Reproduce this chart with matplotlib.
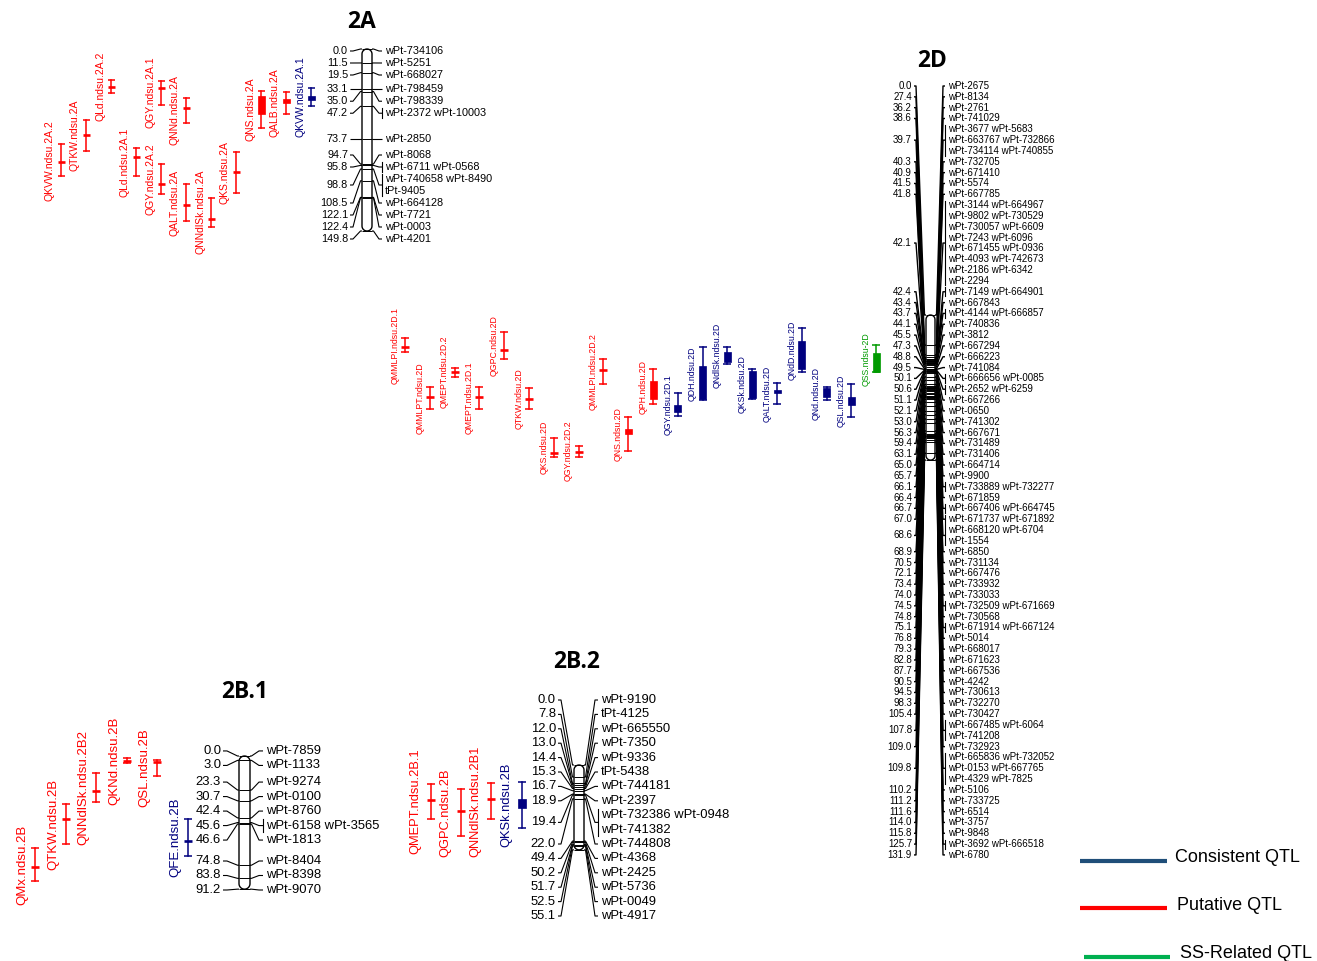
import numpy as np
import matplotlib
matplotlib.use("Agg")
import matplotlib.pyplot as plt
from matplotlib.patches import Polygon, Rectangle

plt.rcParams["font.family"] = ["Liberation Sans", "DejaVu Sans"]

W, H, DPI = 1317, 961, 100

# ---------------------------------------------------------------- chromosome 2A
A_POS = [0.0, 11.5, 19.5, 33.1, 35.0, 47.2, 73.7, 94.7, 95.8, 98.8, 108.5,
         122.1, 122.4, 149.8]
A_MARKERS = [["wPt-734106"], ["wPt-5251"], ["wPt-668027"], ["wPt-798459"],
             ["wPt-798339"], ["wPt-2372 wPt-10003"], ["wPt-2850"], ["wPt-8068"],
             ["wPt-6711 wPt-0568"], ["wPt-740658 wPt-8490", "tPt-9405"],
             ["wPt-664128"], ["wPt-7721"], ["wPt-0003"], ["wPt-4201"]]
A_QTL = ["QKVW.ndsu.2A.2", "QTKW.ndsu.2A", "QLd.ndsu.2A.2", "QLd.ndsu.2A.1",
         "QGY.ndsu.2A.1", "QGY.ndsu.2A.2", "QNNd.ndsu.2A", "QALT.ndsu.2A",
         "QNNdlSk.ndsu.2A", "QKS.ndsu.2A", "QNS.ndsu.2A", "QALB.ndsu.2A",
         "QKVW.ndsu.2A.1"]
A_LO = [78.6, 58.8, 25.7, 81.1, 26.2, 94.8, 40.7, 111.0, 122.5, 84.6, 34.4, 35.2, 31.9]
A_HI = [104.9, 84.0, 36.0, 104.7, 45.7, 119.7, 60.5, 141.7, 146.3, 118.9, 65.4, 53.1, 46.7]
A_BLO = [92.6, 70.4, 31.1, 88.7, 32.0, 111.5, 48.7, 128.8, 140.1, 101.4, 38.5, 41.3, 38.8]
A_BHI = [92.6, 70.4, 31.1, 88.7, 32.0, 111.5, 48.7, 128.8, 140.1, 101.4, 53.1, 44.3, 41.6]
A_TYPE = ["P"] * 12 + ["C"]
A_COL = [0, 1, 2, 3, 4, 4, 5, 5, 6, 7, 8, 9, 10]

# ---------------------------------------------------------------- chromosome 2D
D_POS = [0.0, 27.4, 36.2, 38.6, 39.7, 40.3, 40.9, 41.5, 41.8, 42.1,
         42.4, 43.4, 43.7, 44.1, 45.5, 47.3, 48.8, 49.5, 50.1, 50.6,
         51.1, 52.1, 53.0, 56.3, 59.4, 63.1, 65.0, 65.7, 66.1, 66.4,
         66.7, 67.0, 68.6, 68.9, 70.5, 72.1, 73.4, 74.0, 74.5, 74.8,
         75.1, 76.8, 79.3, 82.8, 87.7, 90.5, 94.5, 98.3, 105.4, 107.8,
         109.0, 109.8, 110.2, 111.2, 111.6, 114.0, 115.8, 125.7, 131.9]
D_MARKERS = [
    ["wPt-2675"], ["wPt-8134"], ["wPt-2761"], ["wPt-741029"],
    ["wPt-3677 wPt-5683", "wPt-663767 wPt-732866", "wPt-734114 wPt-740855"],
    ["wPt-732705"], ["wPt-671410"], ["wPt-5574"], ["wPt-667785"],
    ["wPt-3144 wPt-664967", "wPt-9802 wPt-730529", "wPt-730057 wPt-6609",
     "wPt-7243 wPt-6096", "wPt-671455 wPt-0936", "wPt-4093 wPt-742673",
     "wPt-2186 wPt-6342", "wPt-2294"],
    ["wPt-7149 wPt-664901"], ["wPt-667843"], ["wPt-4144 wPt-666857"],
    ["wPt-740836"], ["wPt-3812"], ["wPt-667294"], ["wPt-666223"],
    ["wPt-741084"], ["wPt-666656 wPt-0085"], ["wPt-2652 wPt-6259"],
    ["wPt-667266"], ["wPt-0650"], ["wPt-741302"], ["wPt-667671"],
    ["wPt-731489"], ["wPt-731406"], ["wPt-664714"], ["wPt-9900"],
    ["wPt-733889 wPt-732277"], ["wPt-671859"], ["wPt-667406 wPt-664745"],
    ["wPt-671737 wPt-671892"], ["wPt-668120 wPt-6704", "wPt-1554"],
    ["wPt-6850"], ["wPt-731134"], ["wPt-667476"], ["wPt-733932"],
    ["wPt-733033"], ["wPt-732509 wPt-671669"], ["wPt-730568"],
    ["wPt-671914 wPt-667124"], ["wPt-5014"], ["wPt-668017"], ["wPt-671623"],
    ["wPt-667536"], ["wPt-4242"], ["wPt-730613"], ["wPt-732270"],
    ["wPt-730427"], ["wPt-667485 wPt-6064", "wPt-741208"], ["wPt-732923"],
    ["wPt-665836 wPt-732052", "wPt-0153 wPt-667765", "wPt-4329 wPt-7825"],
    ["wPt-5106"], ["wPt-733725"], ["wPt-6514"], ["wPt-3757"], ["wPt-9848"],
    ["wPt-3692 wPt-666518"], ["wPt-6780"]]
D_QTL = ["QMMLPI.ndsu.2D.1", "QMMLPT.ndsu.2D", "QMEPT.ndsu.2D.2",
         "QMEPT.ndsu.2D.1", "QGPC.ndsu.2D", "QTKW.ndsu.2D", "QKS.ndsu.2D",
         "QGY.ndsu.2D.2", "QMMLPI.ndsu.2D.2", "QNS.ndsu.2D", "QPH.ndsu.2D",
         "QGY.ndsu.2D.1", "QDH.ndsu.2D", "QNdlSk.ndsu.2D", "QKSk.ndsu.2D",
         "QALT.ndsu.2D", "QNdD.ndsu.2D", "QNd.ndsu.2D", "QSL.ndsu.2D",
         "QSS.ndsu-2D"]
D_LO = [21.2, 65.2, 47.9, 65.2, 15.7, 66.6, 111.5, 118.8, 39.7, 93.0,
        49.4, 71.2, 28.8, 29.4, 49.4, 62.1, 12.1, 65.7, 62.7, 27.3]
D_HI = [33.9, 85.7, 56.1, 85.7, 39.7, 85.7, 128.8, 128.8, 62.7, 123.4,
        80.9, 91.8, 77.3, 44.5, 76.4, 80.9, 51.5, 77.3, 93.0, 52.1]
D_BLO = [28.8, 74.5, 51.5, 74.5, 31.8, 76.4, 125.2, 124.3, 50.3, 103.9,
         59.7, 81.8, 46.4, 33.9, 50.6, 68.2, 23.4, 66.1, 74.8, 34.8]
D_BHI = [28.8, 74.5, 51.5, 74.5, 31.8, 76.4, 125.2, 124.3, 50.3, 108.2,
         76.6, 88.5, 76.4, 43.0, 75.7, 70.6, 49.4, 74.8, 81.8, 52.1]
D_TYPE = ["P"] * 11 + ["C"] * 8 + ["S"]
D_COL = list(range(20))

# ---------------------------------------------------------------- chromosome 2B.1
B1_POS = [0.0, 3.0, 23.3, 30.7, 42.4, 45.6, 46.6, 74.8, 83.8, 91.2]
B1_MARKERS = [["wPt-7859"], ["wPt-1133"], ["wPt-9274"], ["wPt-0100"],
              ["wPt-8760"], ["wPt-6158 wPt-3565"], ["wPt-1813"], ["wPt-8404"],
              ["wPt-8398"], ["wPt-9070"]]
B1_QTL = ["QMx.ndsu.2B", "QTKW.ndsu.2B", "QNNdlSk.ndsu.2B2", "QKNd.ndsu.2B",
          "QSL.ndsu.2B", "QFE.ndsu.2B"]
B1_LO = [63.2, 33.1, 11.4, 1.6, 2.7, 43.4]
B1_HI = [85.4, 60.5, 31.3, 5.0, 13.7, 68.3]
B1_BLO = [75.8, 43.4, 24.0, 3.3, 4.1, 58.0]
B1_BHI = [75.8, 43.4, 24.0, 3.3, 4.1, 58.0]
B1_TYPE = ["P"] * 5 + ["C"]
B1_COL = [0, 1, 2, 3, 4, 5]

# ---------------------------------------------------------------- chromosome 2B.2
B2_POS = [0.0, 7.8, 12.0, 13.0, 14.4, 15.3, 16.7, 18.9, 19.4, 22.0, 49.4,
          50.2, 51.7, 52.5, 55.1]
B2_MARKERS = [["wPt-9190"], ["tPt-4125"], ["wPt-665550"], ["wPt-7350"],
              ["wPt-9336"], ["tPt-5438"], ["wPt-744181"], ["wPt-2397"],
              ["wPt-732386 wPt-0948", "wPt-741382"], ["wPt-744808"],
              ["wPt-4368"], ["wPt-2425"], ["wPt-5736"], ["wPt-0049"],
              ["wPt-4917"]]
B2_QTL = ["QMEPT.ndsu.2B.1", "QGPC.ndsu.2B", "QNNdlSk.ndsu.2B1", "QKSk.ndsu.2B"]
B2_LO = [12.5, 15.6, 11.9, 10.8]
B2_HI = [35.1, 45.9, 35.3, 40.7]
B2_BLO = [22.7, 29.7, 22.3, 22.3]
B2_BHI = [22.7, 29.7, 22.3, 27.7]
B2_TYPE = ["P", "P", "P", "C"]
B2_COL = [0, 1, 2, 3]

LEGEND_LABELS = ["Consistent QTL", "Putative QTL", "SS-Related QTL"]

QTL_COLORS = {"C": "#00007F", "P": "#FF0000", "S": "#009A00"}
LEGEND_COLORS = ["#1F4E79", "#FF0000", "#00B050"]

# panel geometry (pixels): y0 = where 0 cM sits, s = pixels per cM
PANELS = [
    dict(name="2A", pos=A_POS, mk=A_MARKERS, q=A_QTL, lo=A_LO, hi=A_HI,
         blo=A_BLO, bhi=A_BHI, typ=A_TYPE, col=A_COL, method="sweep",
         y0=49.0, s=1.215, step=12.0, ylo=51, yhi=239, cx=(362, 372),
         lab_r=348, lab_l=385, fs=7.8, qfs=7.5, qx0=61, qdx=25, gap=6,
         cap=7, box=7, t=3, lw=0.8, title=(362, 22)),
    dict(name="2D", pos=D_POS, mk=D_MARKERS, q=D_QTL, lo=D_LO, hi=D_HI,
         blo=D_BLO, bhi=D_BHI, typ=D_TYPE, col=D_COL, method="centre",
         y0=315.0, s=1.10, step=10.83, ylo=86, yhi=855, cx=(926, 935),
         lab_r=912, lab_l=948, fs=7.0, qfs=6.3, qx0=405, qdx=24.8, gap=5.5,
         cap=8, box=7, t=2, lw=1.0, title=(932, 61)),
    dict(name="2B.1", pos=B1_POS, mk=B1_MARKERS, q=B1_QTL, lo=B1_LO, hi=B1_HI,
         blo=B1_BLO, bhi=B1_BHI, typ=B1_TYPE, col=B1_COL, method="centre",
         y0=756.0, s=1.46, step=14.5, ylo=749, yhi=890, cx=(239, 250),
         lab_r=221, lab_l=266, fs=9.4, qfs=9.5, qx0=35, qdx=30.5, gap=6.5,
         cap=8, box=7, t=4, lw=0.8, title=(245, 692)),
    dict(name="2B.2", pos=B2_POS, mk=B2_MARKERS, q=B2_QTL, lo=B2_LO, hi=B2_HI,
         blo=B2_BLO, bhi=B2_BHI, typ=B2_TYPE, col=B2_COL, method="centre",
         y0=765.0, s=1.54, step=14.4, ylo=700, yhi=916, cx=(574, 584),
         lab_r=556, lab_l=601, fs=9.4, qfs=9.3, qx0=430.7, qdx=30.3, gap=9.5,
         cap=8, box=8, t=3, lw=0.8, title=(577, 662)),
]


def spread_centre(nat, nlines, step, lo, hi):
    """Push overlapping label blocks apart, keeping each cluster centred on
    its natural positions and inside [lo, hi]. Returns first-line centres."""
    def place(cl):
        cl["top"] = min(max(np.mean(cl["vals"]), lo), hi - cl["size"] + step)

    clusters = []
    for i, (c, k) in enumerate(zip(nat, nlines)):
        first = c - (k - 1) * step / 2.0
        cl = {"items": [(i, 0.0)], "vals": [first], "size": k * step}
        place(cl)
        clusters.append(cl)
        while (len(clusters) > 1 and
               clusters[-2]["top"] + clusters[-2]["size"] > clusters[-1]["top"] + 1e-6):
            b = clusters.pop()
            a = clusters[-1]
            a["items"] += [(j, o + a["size"]) for j, o in b["items"]]
            a["vals"] += [v - a["size"] for v in b["vals"]]
            a["size"] += b["size"]
            place(a)
    out = {}
    for cl in clusters:
        for j, o in cl["items"]:
            out[j] = cl["top"] + o
    return [out[i] for i in range(len(nat))]


def spread_sweep(nat, nlines, step, lo, hi):
    """Downward sweep from natural positions, then an upward sweep so the
    last label stays above hi. Returns first-line centres."""
    firsts = []
    prev_end = lo
    for c, k in zip(nat, nlines):
        f = max(c - (k - 1) * step / 2.0, prev_end)
        firsts.append(f)
        prev_end = f + k * step
    limit = hi + step
    for i in range(len(firsts) - 1, -1, -1):
        k = nlines[i]
        firsts[i] = min(firsts[i], limit - k * step)
        limit = firsts[i]
    return firsts


def chrom_outline(x0, x1, c0, c1, s):
    r = (x1 - x0) / 2.0
    ry = r / s
    cx = (x0 + x1) / 2.0
    pts = []
    th = np.linspace(np.pi, 0, 20)
    pts += list(zip(cx + r * np.cos(th), (c1 - ry) + ry * np.sin(th)))
    th = np.linspace(0, -np.pi, 20)
    pts += list(zip(cx + r * np.cos(th), (c0 + ry) + ry * np.sin(th)))
    return np.array(pts)


fig = plt.figure(figsize=(W / DPI, H / DPI), dpi=DPI)

for p in PANELS:
    ax = fig.add_axes([0, 0, 1, 1])
    ax.set_axis_off()
    ax.set_xlim(0, W)
    y0, s = p["y0"], p["s"]
    ax.set_ylim((H - y0) / s, -y0 / s)

    def cm(px):
        return (np.asarray(px) - y0) / s

    pos = np.array(p["pos"])
    nl = [len(m) for m in p["mk"]]
    nat_px = y0 + s * pos
    spread = spread_sweep if p["method"] == "sweep" else spread_centre
    firsts = spread(nat_px, nl, p["step"], p["ylo"], p["yhi"])

    x0, x1 = p["cx"]
    t = p["t"]
    xa = p["lab_r"] + 2
    xb = p["lab_l"] - 3
    lw = p["lw"]

    for i, lines in enumerate(p["mk"]):
        ys = [firsts[i] + j * p["step"] for j in range(len(lines))]
        yc = float(np.mean(ys))
        ny = pos[i]
        ax.text(p["lab_r"], cm(yc), f"{pos[i]:.1f}", ha="right", va="center",
                fontsize=p["fs"], color="black")
        ax.plot([xa, xa + t, x0 - 1.5, x0], [cm(yc), cm(yc), ny, ny],
                color="black", lw=lw, solid_capstyle="butt")
        ax.plot([x1, x1 + 1.5, xb - t, xb], [ny, ny, cm(yc), cm(yc)],
                color="black", lw=lw, solid_capstyle="butt")
        if len(lines) > 1 or " " in lines[0]:
            ax.plot([xb, xb], [cm(ys[0] - 0.42 * p["step"]),
                               cm(ys[-1] + 0.42 * p["step"])],
                    color="black", lw=0.8)
        for j, txt in enumerate(lines):
            ax.text(p["lab_l"], cm(ys[j]), txt, ha="left", va="center",
                    fontsize=p["fs"], color="black")

    # chromosome bar with marker lines
    outline = chrom_outline(x0, x1, pos.min(), pos.max(), s)
    ax.add_patch(Polygon(outline, closed=True, facecolor="white",
                         edgecolor="black", lw=1.0, zorder=3))
    ax.hlines(pos, x0, x1, color="black", lw=0.7, zorder=4)

    # QTL intervals
    for k, name in enumerate(p["q"]):
        c = QTL_COLORS[p["typ"][k]]
        x = p["qx0"] + p["qdx"] * p["col"][k]
        lo, hi = p["lo"][k], p["hi"][k]
        blo, bhi = p["blo"][k], p["bhi"][k]
        hw = p["cap"] / 2.0
        ax.plot([x, x], [lo, hi], color=c, lw=1.1)
        ax.hlines([lo, hi], x - hw, x + hw, color=c, lw=1.1)
        if (bhi - blo) * s < 2.5:
            ax.hlines((blo + bhi) / 2.0, x - hw, x + hw, color=c, lw=1.9)
        else:
            bw = p["box"]
            ax.add_patch(Rectangle((x - bw / 2.0, blo), bw, bhi - blo,
                                   facecolor=c, edgecolor=c, lw=0.5))
        ax.text(x - p["gap"], (lo + hi) / 2.0, name, rotation=90, ha="right",
                va="center", fontsize=p["qfs"], color=c)

    fig.text(p["title"][0] / W, 1 - p["title"][1] / H, p["name"],
             ha="center", va="center", fontsize=16.5, fontweight="bold",
             family=["Open Sans", "DejaVu Sans"])

# legend
axl = fig.add_axes([0, 0, 1, 1])
axl.set_axis_off()
axl.set_xlim(0, W)
axl.set_ylim(H, 0)
leg_line_x = [(1080, 1167), (1080, 1167), (1084, 1170)]
leg_line_y = [861, 908, 957]
leg_text_x = [1175, 1177, 1180]
leg_text_y = [858, 906, 953]
for lab, col, lx, ly, tx, ty in zip(LEGEND_LABELS, LEGEND_COLORS, leg_line_x,
                                    leg_line_y, leg_text_x, leg_text_y):
    axl.plot(lx, [ly, ly], color=col, lw=3.0, solid_capstyle="butt")
    axl.text(tx, ty, lab, ha="left", va="center", fontsize=13, color="black")

fig.savefig("out.png", dpi=DPI)
